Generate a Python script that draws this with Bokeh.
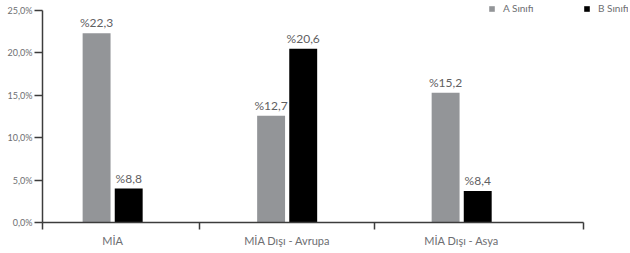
from bokeh.plotting import figure
from bokeh.models import Range1d, FixedTicker, ColumnDataSource, Legend, LegendItem
from bokeh.transform import dodge
from bokeh.core.properties import value
from bokeh.embed import file_html
from bokeh.resources import INLINE

categories = ["MİA", "MİA Dışı - Avrupa", "MİA Dışı - Asya"]
series_names = ["A Sınıfı", "B Sınıfı"]
a_values = [22.3, 12.6, 15.3]
b_values = [4.0, 20.5, 3.7]
a_labels = ["%22,3", "%12,7", "%15,2"]
b_labels = ["%8,8", "%20,6", "%8,4"]
y_ticks = [0, 5, 10, 15, 20, 25]
y_tick_labels = ["0,0%", "5,0%", "10,0%", "15,0%", "20,0%", "25,0%"]

GRAY = "#939598"
BLACK = "#000000"
TEXT = "#6d6e71"
AXIS = "#3c3c3c"
FONT = "Lato"

idx = list(range(len(categories)))
src = ColumnDataSource(dict(x=idx, a=a_values, b=b_values, a_lab=a_labels, b_lab=b_labels))

x_start, x_axis_end, x_end = -0.402, 2.698, 2.956
y_max = y_ticks[-1]
p = figure(width=630, height=253, x_range=Range1d(x_start, x_end),
           y_range=Range1d(0, y_max * 1.0376),
           output_backend="svg", toolbar_location=None,
           min_border_left=42, min_border_right=2, min_border_top=2, min_border_bottom=31)
p.outline_line_color = None
p.xgrid.visible = False
p.ygrid.visible = False
p.background_fill_color = "white"

bw = 0.16
off = 0.092
ra = p.vbar(x=dodge('x', -off), top='a', width=bw, source=src, fill_color=GRAY, line_color=None)
rb = p.vbar(x=dodge('x', off), top='b', width=bw, source=src, fill_color=BLACK, line_color=None)

for field, lab, o in (("a", "a_lab", -off), ("b", "b_lab", off)):
    p.text(x=dodge('x', o), y=field, text=lab, source=src, text_align="center",
           text_baseline="bottom", y_offset=-3, text_font=value(FONT),
           text_font_size="12px", text_color="#5f6062")

# y axis
ya = p.yaxis[0]
ya.bounds = (0, y_max)
ya.ticker = FixedTicker(ticks=y_ticks, minor_ticks=[])
ya.major_label_overrides = {t: l for t, l in zip(y_ticks, y_tick_labels)}
ya.major_label_text_font = FONT
ya.major_label_text_font_size = "9px"
ya.major_label_text_color = TEXT
ya.major_tick_out = 8
ya.major_tick_in = 0
ya.major_label_standoff = 2
ya.axis_line_color = AXIS
ya.axis_line_width = 1.5
ya.major_tick_line_color = AXIS
ya.major_tick_line_width = 1.5

# x axis
xa = p.xaxis[0]
xa.bounds = (x_start, x_axis_end)
xa.ticker = FixedTicker(ticks=idx, minor_ticks=[x_start + 0.002, 0.5, 1.5, x_axis_end - 0.002])
xa.major_label_overrides = {i: c for i, c in zip(idx, categories)}
xa.major_label_text_font = FONT
xa.major_label_text_font_size = "11px"
xa.major_label_text_color = TEXT
xa.major_tick_line_color = None
xa.major_tick_out = 7
xa.major_tick_in = 0
xa.major_label_standoff = 4
xa.minor_tick_out = 7
xa.minor_tick_in = 0
xa.minor_tick_line_color = AXIS
xa.minor_tick_line_width = 1.5
xa.axis_line_color = AXIS
xa.axis_line_width = 1.5

legend = Legend(items=[LegendItem(label=series_names[0], renderers=[ra]),
                       LegendItem(label=series_names[1], renderers=[rb])],
                orientation="horizontal", location=(446, 208), padding=0, margin=0,
                spacing=43, glyph_width=7, glyph_height=7, label_standoff=8,
                label_width=37,
                label_text_font=FONT, label_text_font_size="10px", label_text_color=TEXT,
                label_height=9, border_line_color=None, background_fill_alpha=0)
p.add_layout(legend)

open("out.html", "w").write(file_html(p, INLINE))
